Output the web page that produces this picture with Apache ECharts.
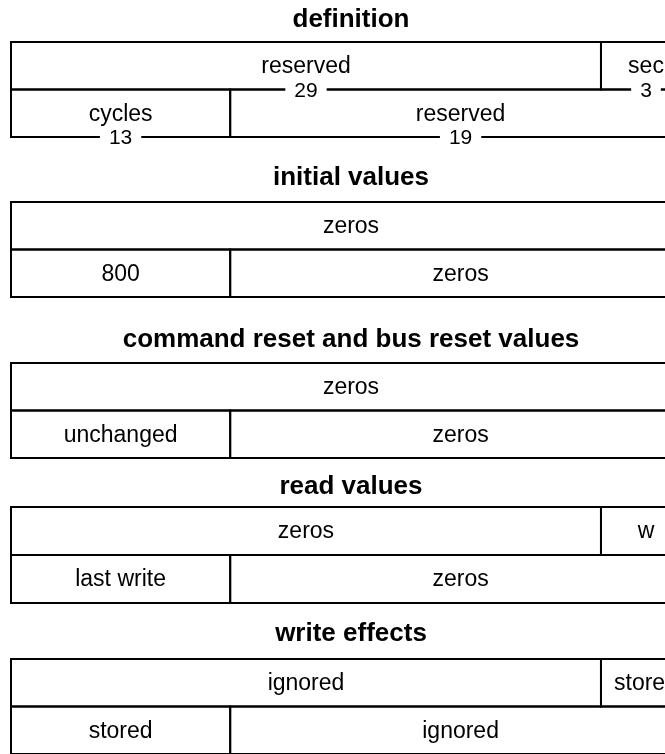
<!DOCTYPE html>
<html>
<head>
<meta charset="utf-8">
<script src="https://cdn.jsdelivr.net/npm/echarts@6/dist/echarts.min.js"></script>
<style>
html,body{margin:0;padding:0;overflow:hidden;background:#ffffff;}
#c{width:702px;height:754px;}
</style>
</head>
<body>
<div id="c"></div>
<script>
// ---- data ----
const sectionTitles = ['definition', 'initial values', 'command reset and bus reset values', 'read values', 'write effects'];
const upperNames = [['reserved', 'sec'], ['zeros'], ['zeros'], ['zeros', 'w'], ['ignored', 'stored']];
const upperBits  = [[29, 3], [32], [32], [29, 3], [29, 3]];
const lowerNames = [['cycles', 'reserved'], ['800', 'zeros'], ['unchanged', 'zeros'], ['last write', 'zeros'], ['stored', 'ignored']];
const lowerBits  = [[13, 19], [13, 19], [13, 19], [13, 19], [13, 19]];
const showBitCounts = [true, false, false, false, false];
const REG_BITS = 32;

// ---- layout (not data) ----
// The reference table's columns are not proportional to bit counts; a hidden
// log axis with an offset reproduces its column boundaries.
const AXIS_OFFSET = 29;
const FONT = "'Liberation Sans', Arial, Helvetica, sans-serif";
const sectionTop = [42, 202, 363, 507, 659];
const sectionHeight = [95, 95, 95, 96, 98];
const titleTop = [6.5, 164.5, 327, 474, 621];

const grids = [], xAxes = [], yAxes = [], titles = [], series = [];

sectionTitles.forEach(function (t, i) {
  grids.push({ left: 11, right: 11, top: sectionTop[i], height: sectionHeight[i] });
  xAxes.push({ gridIndex: i, type: 'log', logBase: 2, min: AXIS_OFFSET, max: REG_BITS + AXIS_OFFSET, inverse: true, show: false });
  yAxes.push({ gridIndex: i, type: 'value', min: 0, max: 2, inverse: true, show: false });
  titles.push({
    text: t, left: 'center', top: titleTop[i], padding: 0,
    textStyle: { fontFamily: FONT, fontSize: 26, fontWeight: 'bold', color: '#000' }
  });

  const items = [];
  [[upperNames[i], upperBits[i]], [lowerNames[i], lowerBits[i]]].forEach(function (pair, r) {
    const names = pair[0], bits = pair[1];
    let hi = REG_BITS;
    names.forEach(function (n, k) {
      const lo = hi - bits[k];
      items.push({ name: n, bits: bits[k], value: [hi + AXIS_OFFSET, lo + AXIS_OFFSET, r] });
      hi = lo;
    });
  });

  series.push({
    type: 'custom',
    xAxisIndex: i,
    yAxisIndex: i,
    silent: true,
    animation: false,
    clip: false,
    encode: { x: [0, 1], y: 2 },
    data: items.map(function (d) { return d.value; }),
    renderItem: function (params, api) {
      const it = items[params.dataIndex];
      const a = api.coord([api.value(0), api.value(2)]);
      const b = api.coord([api.value(1), api.value(2) + 1]);
      const x0 = Math.min(a[0], b[0]), x1 = Math.max(a[0], b[0]);
      const y0 = Math.min(a[1], b[1]), y1 = Math.max(a[1], b[1]);
      const cx = (x0 + x1) / 2, cy = (y0 + y1) / 2;
      const children = [
        { type: 'rect', z2: 0, shape: { x: x0, y: y0, width: x1 - x0, height: y1 - y0 },
          style: { fill: 'none', stroke: '#000', lineWidth: 2 } },
        { type: 'text', z2: 5,
          style: { text: it.name, x: cx, y: cy + 1, align: 'center', verticalAlign: 'middle',
                   fontFamily: FONT, fontSize: 23, fill: '#000' } }
      ];
      if (showBitCounts[i]) {
        children.push({ type: 'text', z2: 10,
          style: { text: String(it.bits), x: cx, y: y1 + 1.5, align: 'center', verticalAlign: 'middle',
                   fontFamily: FONT, fontSize: 21, fill: '#000', backgroundColor: '#fff', padding: [0, 9] } });
      }
      return { type: 'group', children: children };
    }
  });
});

const chart = echarts.init(document.getElementById('c'), null, { renderer: 'canvas' });
chart.setOption({
  backgroundColor: '#ffffff',
  animation: false,
  title: titles,
  grid: grids,
  xAxis: xAxes,
  yAxis: yAxes,
  series: series
});
</script>
</body>
</html>
